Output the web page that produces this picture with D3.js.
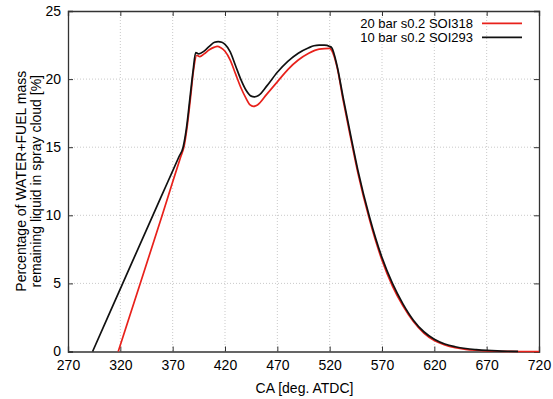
<!DOCTYPE html>
<html>
<head>
<meta charset="utf-8">
<script src="https://cdn.jsdelivr.net/npm/d3@7"></script>
<style>
  body { margin: 0; background: #fff; }
  text { font-family: "Liberation Sans", Arial, sans-serif; }
</style>
</head>
<body>
<div id="chart"></div>
<script>
// series
const seriesNames = ["20 bar s0.2 SOI318", "10 bar s0.2 SOI293"];
const seriesColors = ["#e8211b", "#111111"];

const caRed = [318, 339, 360, 370.2, 377.7, 381, 384, 387, 390, 393, 396, 400, 405, 410, 412.5, 416, 420, 425, 430, 435, 440, 444, 447, 451, 460, 470, 480, 490, 500, 510, 520, 522, 527, 533, 540, 547, 558, 570, 580, 590, 600, 610, 620, 630, 640, 650, 660, 670, 680, 690, 700, 720];
const valRed = [0, 5, 10, 12.5, 14.3, 15.1, 16.6, 18.6, 20.7, 21.75, 21.65, 21.85, 22.15, 22.35, 22.4, 22.3, 22.05, 21.4, 20.4, 19.4, 18.6, 18.1, 18.0, 18.1, 18.9, 19.8, 20.7, 21.4, 21.9, 22.2, 22.25, 22.1, 20.9, 18.4, 15.7, 13.1, 9.7, 6.7, 4.8, 3.35, 2.2, 1.35, 0.8, 0.48, 0.28, 0.16, 0.09, 0.04, 0.02, 0.01, 0, 0];

const caBlack = [293.5, 322.3, 351.1, 365.6, 376, 380, 383, 386.5, 389.5, 392, 395, 400, 405, 410, 413.5, 417, 420, 425, 430, 435, 440, 445, 448, 452, 460, 470, 480, 490, 500, 505, 510, 515, 520, 522, 527, 533, 540, 547, 558, 570, 580, 590, 600, 610, 620, 630, 640, 650, 660, 670, 680, 690, 700];
const valBlack = [0, 5, 10, 12.5, 14.3, 15, 16.3, 18.6, 20.6, 21.95, 21.85, 22.05, 22.4, 22.7, 22.75, 22.7, 22.55, 22.0, 21.0, 20.0, 19.2, 18.75, 18.7, 18.8, 19.5, 20.5, 21.3, 21.9, 22.3, 22.45, 22.5, 22.5, 22.4, 22.3, 21.0, 18.6, 15.9, 13.3, 9.9, 6.9, 5.0, 3.5, 2.3, 1.45, 0.9, 0.55, 0.35, 0.22, 0.14, 0.08, 0.04, 0.02, 0.01];

const xTicks = [270, 320, 370, 420, 470, 520, 570, 620, 670, 720];
const yTicks = [0, 5, 10, 15, 20, 25];

const W = 553, H = 399;
const margin = {top: 11, right: 14, bottom: 47.5, left: 68};
const width = W - margin.left - margin.right;
const height = H - margin.top - margin.bottom;

const svg = d3.select("#chart")
  .append("svg")
    .attr("width", W)
    .attr("height", H)
  .append("g")
    .attr("transform", `translate(${margin.left},${margin.top})`);

const x = d3.scaleLinear().domain([270, 720]).range([0, width]);
const y = d3.scaleLinear().domain([0, 25]).range([height, 0]);

// grid
svg.append("g")
  .selectAll("line")
  .data(xTicks.slice(1, -1))
  .join("line")
    .attr("x1", d => x(d)).attr("x2", d => x(d))
    .attr("y1", 0).attr("y2", height)
    .attr("stroke", "#bbb").attr("stroke-width", 0.8)
    .attr("stroke-dasharray", "1,2");
svg.append("g")
  .selectAll("line")
  .data(yTicks.slice(1, -1))
  .join("line")
    .attr("x1", 0).attr("x2", width)
    .attr("y1", d => y(d)).attr("y2", d => y(d))
    .attr("stroke", "#bbb").attr("stroke-width", 0.8)
    .attr("stroke-dasharray", "1,2");

// axes, ticks pointing inward on all four sides
const fontSize = "14px";
const xAxis = svg.append("g")
  .attr("transform", `translate(0,${height})`)
  .call(d3.axisBottom(x).tickValues(xTicks).tickSize(-5).tickPadding(9));
const yAxis = svg.append("g")
  .call(d3.axisLeft(y).tickValues(yTicks).tickSize(-5).tickPadding(7));
svg.append("g")
  .call(d3.axisTop(x).tickValues(xTicks).tickSize(-5).tickFormat(""));
svg.append("g")
  .attr("transform", `translate(${width},0)`)
  .call(d3.axisRight(y).tickValues(yTicks).tickSize(-5).tickFormat(""));

svg.selectAll(".domain").attr("stroke", "#333").attr("stroke-width", 1.3);
svg.selectAll(".tick line").attr("stroke", "#333");
svg.selectAll(".tick text").attr("fill", "#000").style("font-size", fontSize)
  .style("font-family", "'Liberation Sans', Arial, sans-serif");

// axis titles
svg.append("text")
  .attr("x", width / 2 + 1)
  .attr("y", height + 41.2)
  .attr("text-anchor", "middle")
  .style("font-size", fontSize)
  .text("CA [deg. ATDC]");

const yTitle = svg.append("text")
  .attr("transform", `translate(${-margin.left + 26},${height / 2}) rotate(-90)`)
  .attr("text-anchor", "middle")
  .style("font-size", fontSize);
yTitle.append("tspan").attr("x", 0).attr("y", 0).text("Percentage of WATER+FUEL mass");
yTitle.append("tspan").attr("x", 0).attr("y", 15).text("remaining liquid in spray cloud [%]");

// lines
const series = [
  caRed.map((c, i) => [c, valRed[i]]),
  caBlack.map((c, i) => [c, valBlack[i]])
];
const line = d3.line()
  .x(d => x(d[0]))
  .y(d => y(d[1]))
  .curve(d3.curveMonotoneX);

svg.selectAll(".series")
  .data(series)
  .join("path")
    .attr("class", "series")
    .attr("d", line)
    .attr("fill", "none")
    .attr("stroke", (d, i) => seriesColors[i])
    .attr("stroke-width", 1.7)
    .attr("stroke-linejoin", "round");

// legend
const legend = svg.append("g");
seriesNames.forEach(function(name, i) {
  const ly = 12.3 + i * 14;
  legend.append("text")
    .attr("x", 405)
    .attr("y", ly + 4.7)
    .attr("text-anchor", "end")
    .style("font-size", "13px")
    .text(name);
  legend.append("line")
    .attr("x1", 414).attr("x2", 454)
    .attr("y1", ly).attr("y2", ly)
    .attr("stroke", seriesColors[i])
    .attr("stroke-width", 1.7);
});
</script>
</body>
</html>
